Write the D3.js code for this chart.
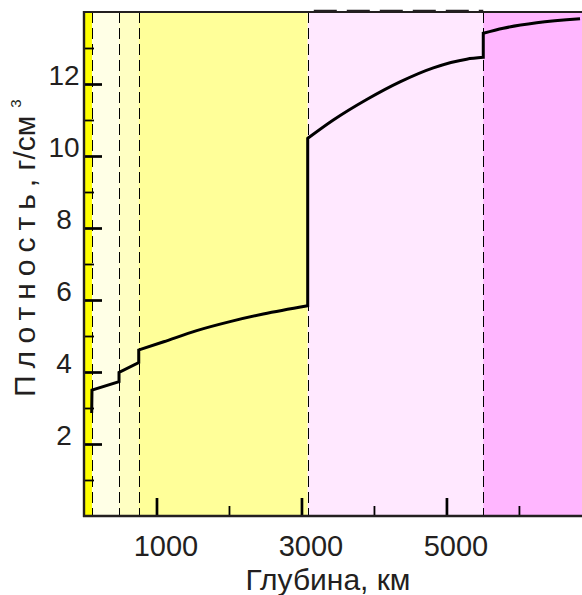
<!DOCTYPE html>
<html>
<head>
<meta charset="utf-8">
<script src="https://cdn.jsdelivr.net/npm/d3@7"></script>
<style>
  html, body { margin: 0; padding: 0; background: #ffffff; }
  svg { display: block; }
  text { font-family: "Liberation Sans", Arial, Helvetica, sans-serif; fill: #231f20; }
</style>
</head>
<body>
<svg id="chart" width="582" height="595"></svg>
<script>
// ---------------- DATA ----------------
// Layer boundaries (depth, km)
const layerBounds = [0, 110, 487, 752, 3086, 5508, 6870];
// Dashed boundary lines (depth, km)
const boundaryDepths = [110, 487, 752, 3086, 5508];

// Density curve segments: depth (km) and density (g/cm3)
const crustDepth   = [106, 110];
const crustDens    = [2.86, 3.50];
const upperDepth   = [110, 483];
const upperDens    = [3.50, 3.73];
const transDepth   = [483, 755];
const transDens    = [3.99, 4.26];
const lowerDepth   = [755, 1100, 1555, 2014, 2473, 3086];
const lowerDens    = [4.61, 4.84, 5.15, 5.40, 5.61, 5.84];
const outerDepth   = [3086, 3439, 3900, 4359, 4819, 5279, 5508];
const outerDens    = [10.49, 11.00, 11.57, 12.06, 12.45, 12.69, 12.74];
const innerDepth   = [5508, 5784, 6245, 6843];
const innerDens    = [13.41, 13.55, 13.70, 13.81];

// Ticks
const xMajorTicks = [1000, 3000, 5000];
const xMinorTicks = [2000, 4000, 6000];
const yMajorTicks = [2, 4, 6, 8, 10, 12];
const yMinorTicks = [1, 3, 5, 7, 9, 11, 13];

const xTitle = "Глубина, км";
const yTitleMain = "Плотность";
const yTitleUnit = ", г/см";
const yTitleSup = "3";

// ---------------- STYLE ----------------
const layerColors = ["#ffff00", "#ffffe6", "#ffffc2", "#ffff99", "#ffe8ff", "#ffb6ff"];

const svg = d3.select("#chart");
svg.append("rect").attr("width", 582).attr("height", 595).attr("fill", "#ffffff");

const x = d3.scaleLinear().domain([0, 6870]).range([84, 582]);
const y = d3.scaleLinear().domain([0, 14]).range([516, 12]);

// Layer bands
const bands = d3.range(layerBounds.length - 1).map(i => ({a: layerBounds[i], b: layerBounds[i + 1], c: layerColors[i]}));
svg.append("g").selectAll("rect").data(bands).join("rect")
  .attr("x", d => x(d.a)).attr("width", d => x(d.b) - x(d.a))
  .attr("y", y(14)).attr("height", y(0) - y(14))
  .attr("fill", d => d.c);

// Dashed boundaries
svg.append("g").selectAll("line").data(boundaryDepths).join("line")
  .attr("x1", d => Math.round(x(d)) + 0.5).attr("x2", d => Math.round(x(d)) + 0.5)
  .attr("y1", y(14)).attr("y2", y(0))
  .attr("stroke", "#000").attr("stroke-width", 1).attr("stroke-dasharray", "11,5");

// small dashed strip above top border over outer core
svg.append("line")
  .attr("x1", x(3170)).attr("x2", x(5508)).attr("y1", 10.5).attr("y2", 10.5)
  .attr("stroke", "#231f20").attr("stroke-width", 1.5).attr("stroke-dasharray", "23,10");

// Density curve
const segs = [
  [crustDepth, crustDens], [upperDepth, upperDens], [transDepth, transDens],
  [lowerDepth, lowerDens], [outerDepth, outerDens], [innerDepth, innerDens]
].map(([dd, vv]) => dd.map((d, i) => [d, vv[i]]));
const lineGen = d3.line().x(d => x(d[0])).y(d => y(d[1])).curve(d3.curveMonotoneX);
let pathD = segs.map((s, i) => {
  const p = lineGen(s);
  return i === 0 ? p : "L" + p.slice(1);
}).join("");
svg.append("path").attr("d", pathD)
  .attr("fill", "none").attr("stroke", "#000").attr("stroke-width", 3)
  .attr("stroke-linejoin", "miter");

// Axes
const yMajor = d3.axisLeft(y).tickValues(yMajorTicks).tickSize(-18).tickSizeOuter(0).tickFormat(d3.format("d"));
const yMinor = d3.axisLeft(y).tickValues(yMinorTicks).tickSize(-10).tickSizeOuter(0).tickFormat("");
const xMajor = d3.axisBottom(x).tickValues(xMajorTicks).tickSize(-18).tickSizeOuter(0).tickFormat(d3.format("d"));
const xMinor = d3.axisBottom(x).tickValues(xMinorTicks).tickSize(-10).tickSizeOuter(0).tickFormat("");

const gyMin = svg.append("g").attr("transform", "translate(84,0)").call(yMinor);
const gyMaj = svg.append("g").attr("transform", "translate(84,0)").call(yMajor);
const gxMin = svg.append("g").attr("transform", "translate(0,516)").call(xMinor);
const gxMaj = svg.append("g").attr("transform", "translate(0,516)").call(xMajor);

[gyMin, gyMaj, gxMin, gxMaj].forEach(g => g.select(".domain").remove());
gyMin.selectAll(".tick line").attr("stroke", "#000").attr("stroke-width", 1.8);
gxMin.selectAll(".tick line").attr("stroke", "#000").attr("stroke-width", 1.8);
gyMaj.selectAll(".tick line").attr("stroke", "#000").attr("stroke-width", 2.7);
gxMaj.selectAll(".tick line").attr("stroke", "#000").attr("stroke-width", 2.7);

gyMaj.selectAll(".tick text")
  .attr("x", -20).attr("dy", 0).attr("y", 0)
  .attr("text-anchor", "middle")
  .style("font-size", "28px").style("font-family", "'Liberation Sans', Arial, sans-serif").attr("fill", "#231f20");
gxMaj.selectAll(".tick text")
  .attr("y", 40).attr("dy", 0).attr("dx", 9)
  .attr("text-anchor", "middle")
  .style("font-size", "29px").style("font-family", "'Liberation Sans', Arial, sans-serif").attr("fill", "#231f20");

// Frame lines
svg.append("line").attr("x1", 84).attr("x2", 84).attr("y1", 11).attr("y2", 517)
  .attr("stroke", "#231f20").attr("stroke-width", 2.4);
svg.append("line").attr("x1", 83).attr("x2", 582).attr("y1", 516).attr("y2", 516)
  .attr("stroke", "#231f20").attr("stroke-width", 2.6);
svg.append("line").attr("x1", 83).attr("x2", 582).attr("y1", 12).attr("y2", 12)
  .attr("stroke", "#231f20").attr("stroke-width", 2);

// Titles
svg.append("text").attr("x", 328).attr("y", 590).attr("text-anchor", "middle")
  .style("font-size", "30px").text(xTitle);

const yt = svg.append("text").attr("transform", "translate(35,397) rotate(-90)")
  .attr("text-anchor", "start").style("font-size", "30px");
yt.append("tspan").attr("letter-spacing", "7px").text(yTitleMain);
yt.append("tspan").text(yTitleUnit);
yt.append("tspan").attr("dx", 8).attr("dy", -14).style("font-size", "15px").text(yTitleSup);
</script>
</body>
</html>
